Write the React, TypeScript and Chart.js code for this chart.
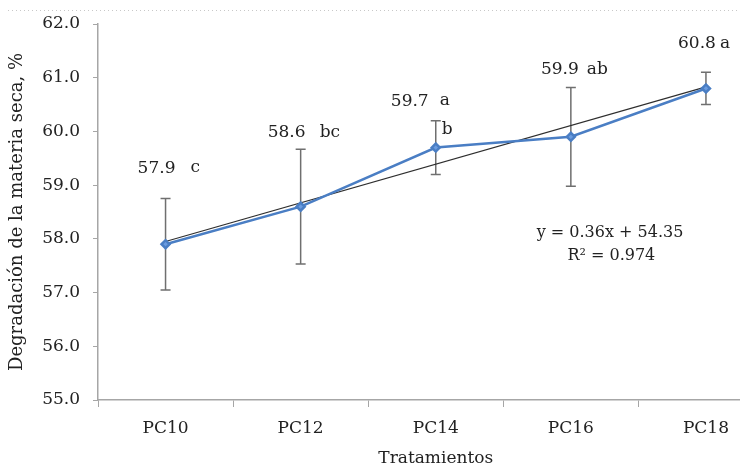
import React, { useEffect, useRef } from "react";
import { Chart, registerables } from "chart.js";

Chart.register(...registerables);

const categories = ["PC10", "PC12", "PC14", "PC16", "PC18"];
const means = [57.9, 58.6, 59.7, 59.9, 60.8];
const errors = [0.85, 1.07, 0.5, 0.92, 0.3];
const letterGroups = [["c"], ["bc"], ["a", "b"], ["ab"], ["a"]];
const trendValues = [57.95, null, null, null, 60.83];
const yMin = 55;
const yMax = 62;
const equationText = "y = 0.36x + 54.35";
const r2Text = "R\u00b2 = 0.974";
const yTitle = "Degradación de la materia seca, %";
const xTitle = "Tratamientos";

// styling offsets (pixels) for the value/letter annotations
const numOffsets = [
  { dx: -9, dy: 76 },
  { dx: -14, dy: 74 },
  { dx: -26, dy: 46 },
  { dx: -11, dy: 67 },
  { dx: -9, dy: 45 },
];
const letterOffsets = [
  [{ dx: 25, dy: 77 }],
  [{ dx: 19, dy: 74 }],
  [{ dx: 4, dy: 47 }, { dx: 6, dy: 18 }],
  [{ dx: 16, dy: 67 }],
  [{ dx: 14, dy: 45 }],
];

const FONT = "'DejaVu Serif', serif";
const TEXT = "#222222";
const AXIS = "#a6a6a6";

const decorPlugin = {
  id: "decor",
  beforeDatasetsDraw(chart: any) {
    const ctx = chart.ctx;
    const xs = chart.scales.x;
    const ys = chart.scales.y;
    ctx.save();
    ctx.strokeStyle = "#6f6f6f";
    ctx.lineWidth = 1.5;
    means.forEach((m, i) => {
      const x = xs.getPixelForValue(i);
      const yt = ys.getPixelForValue(m + errors[i]);
      const yb = ys.getPixelForValue(m - errors[i]);
      ctx.beginPath();
      ctx.moveTo(x, yt);
      ctx.lineTo(x, yb);
      ctx.moveTo(x - 5, yt);
      ctx.lineTo(x + 5, yt);
      ctx.moveTo(x - 5, yb);
      ctx.lineTo(x + 5, yb);
      ctx.stroke();
    });
    ctx.restore();
  },
  afterDraw(chart: any) {
    const ctx = chart.ctx;
    const xs = chart.scales.x;
    const ys = chart.scales.y;
    ctx.save();
    // dotted frame line at top
    ctx.strokeStyle = "#c8c8c8";
    ctx.lineWidth = 1;
    ctx.setLineDash([1, 3]);
    ctx.beginPath();
    ctx.moveTo(8, 10.5);
    ctx.lineTo(chart.width, 10.5);
    ctx.stroke();
    ctx.setLineDash([]);

    ctx.fillStyle = TEXT;
    ctx.font = `17px ${FONT}`;
    ctx.textBaseline = "middle";
    means.forEach((m, i) => {
      const x = xs.getPixelForValue(i);
      const y = ys.getPixelForValue(m);
      ctx.textAlign = "center";
      ctx.fillText(m.toFixed(1), x + numOffsets[i].dx, y - numOffsets[i].dy);
      ctx.textAlign = "left";
      letterGroups[i].forEach((l, j) => {
        const o = letterOffsets[i][j];
        ctx.fillText(l, x + o.dx, y - o.dy);
      });
    });
    ctx.textAlign = "center";
    ctx.font = `16px ${FONT}`;
    ctx.fillText(equationText, xs.getPixelForValue(3.29), ys.getPixelForValue(58.12));
    ctx.fillText(r2Text, xs.getPixelForValue(3.3), ys.getPixelForValue(57.69));
    ctx.restore();
  },
};

export default function App() {
  const canvasRef = useRef<HTMLCanvasElement | null>(null);

  useEffect(() => {
    const canvas = canvasRef.current;
    if (!canvas) return;
    const chart = new Chart(canvas, {
      type: "line",
      data: {
        labels: categories,
        datasets: [
          {
            label: "Tendencia",
            data: trendValues,
            borderColor: "#2e2e2e",
            borderWidth: 1.2,
            pointRadius: 0,
            spanGaps: true,
            fill: false,
            order: 2,
          },
          {
            label: "Degradación",
            data: means,
            borderColor: "#4a7ec4",
            backgroundColor: "#5b8fd6",
            borderWidth: 2.5,
            pointStyle: "rectRot",
            pointRadius: 4,
            pointBorderColor: "#4a7ec4",
            pointBackgroundColor: "#6b9ce0",
            fill: false,
            tension: 0,
            order: 1,
          },
        ],
      },
      options: {
        animation: false,
        responsive: false,
        devicePixelRatio: 1,
        layout: { padding: { top: 24, right: 2, bottom: 0, left: 0 } },
        plugins: {
          legend: { display: false },
          tooltip: { enabled: false },
        },
        scales: {
          x: {
            type: "category",
            offset: true,
            grid: {
              display: true,
              drawOnChartArea: false,
              drawTicks: true,
              tickLength: 7,
              offset: true,
              color: AXIS,
              lineWidth: 1,
            },
            border: { display: true, color: AXIS, width: 1.5 },
            ticks: {
              color: TEXT,
              font: { family: FONT, size: 17 },
              padding: 11,
            },
            title: {
              display: true,
              text: xTitle,
              color: TEXT,
              font: { family: FONT, size: 17 },
              padding: { top: 0, bottom: 0 },
            },
            afterFit(scale: any) {
              scale.height = 69;
            },
          },
          y: {
            type: "linear",
            min: yMin,
            max: yMax,
            grid: {
              display: true,
              drawOnChartArea: false,
              drawTicks: true,
              tickLength: 5,
              color: AXIS,
              lineWidth: 1,
            },
            border: { display: true, color: AXIS, width: 1.5 },
            ticks: {
              stepSize: 1,
              color: TEXT,
              font: { family: FONT, size: 17 },
              padding: 13,
              callback: (v: any) => Number(v).toFixed(1),
            },
            title: {
              display: true,
              text: yTitle,
              color: TEXT,
              font: { family: FONT, size: 18 },
              padding: { top: 7, bottom: 0 },
            },
            afterFit(scale: any) {
              scale.width = 98;
            },
          },
        },
      },
      plugins: [decorPlugin],
    });
    return () => chart.destroy();
  }, []);

  return (
    <div
      style={{
        position: "absolute",
        left: 0,
        top: 0,
        width: 740,
        height: 469,
        overflow: "hidden",
        background: "#ffffff",
      }}
    >
      <canvas
        ref={canvasRef}
        width={780}
        height={469}
        style={{ width: 780, height: 469, display: "block" }}
      />
    </div>
  );
}
